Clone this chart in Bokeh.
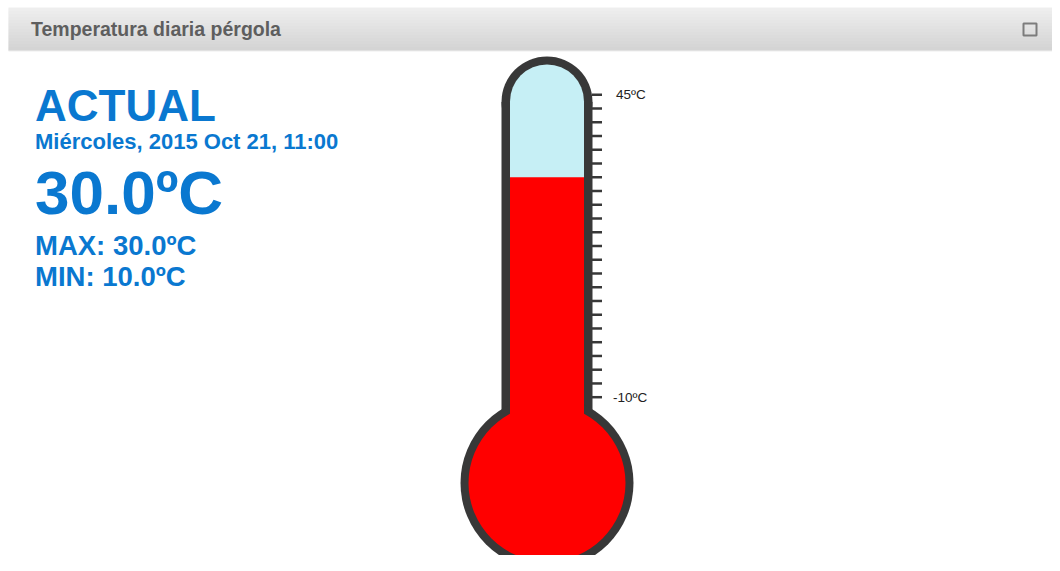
from bokeh.plotting import figure
from bokeh.models import Range1d
from bokeh.core.properties import value
from bokeh.embed import file_html
from bokeh.resources import INLINE

# ---- data ----
title_text = "Temperatura diaria pérgola"
heading = "ACTUAL"
date_label = "Miércoles, 2015 Oct 21, 11:00"
current_temp = 30.0
max_temp = 30.0
min_temp = 10.0
scale_min = -10.0
scale_max = 45.0
tick_temps = [-10.0, -7.5, -5.0, -2.5, 0.0, 2.5, 5.0, 7.5, 10.0, 12.5, 15.0, 17.5,
              20.0, 22.5, 25.0, 27.5, 30.0, 32.5, 35.0, 37.5, 40.0, 42.5, 45.0]
tick_label_temps = [45.0, -10.0]
tick_labels = ["45ºC", "-10ºC"]

# ---- layout (pixel coordinates inside the figure) ----
W, H = 1052, 555
PY_MAX, PY_MIN = 94.3, 396.7          # pixel rows of scale_max / scale_min
deg_per_px = (scale_max - scale_min) / (PY_MIN - PY_MAX)


def t_at(py):
    return scale_min + (PY_MIN - py) * deg_per_px


p = figure(width=W, height=H,
           x_range=Range1d(0, W),
           y_range=Range1d(t_at(H), t_at(0)),
           output_backend="svg", toolbar_location=None,
           x_axis_location=None, y_axis_location=None,
           min_border=0, outline_line_color=None,
           background_fill_color="white", border_fill_color="white")
p.xgrid.visible = False
p.ygrid.visible = False
p.extra_y_ranges = {"px": Range1d(H, 0)}

FONT = value("Liberation Sans")
MID = 0.3465  # baseline offset of the em-box middle (Liberation Sans)

# ---- header bar with gradient ----
HT, HB = 7, 50
n = HB - HT
tops = [HT + i for i in range(n)]
bots = [HT + i + 1.6 for i in range(n)]
cols = []
for i in range(n):
    v = int(round(239 - (239 - 211) * i / (n - 1)))
    cols.append("#%02x%02x%02x" % (v, v, v))
p.quad(left=8, right=W, top=tops, bottom=bots, fill_color=cols,
       line_color=None, y_range_name="px")
p.segment(x0=[8], y0=[50.5], x1=[W], y1=[50.5], line_color="#eeeeee",
          line_width=1, y_range_name="px")
p.text(x=[30.5], y=[35 - MID * 19.5], text=[title_text], text_font=FONT,
       text_font_style="bold", text_font_size=value("19.5px"), text_color="#5e5e5e",
       text_baseline="middle", y_range_name="px")
p.rect(x=[1029.5], y=[29], width=13, height=12, fill_color=None,
       line_color="#7c7c7c", line_width=2, y_range_name="px")

# ---- left texts ----
blue = "#0a78d0"
lines = [
    (heading, 120, 44),
    (date_label, 149, 22),
    ("%.1fºC" % current_temp, 213, 62),
    ("MAX: %.1fºC" % max_temp, 255, 27.5),
    ("MIN: %.1fºC" % min_temp, 286, 27.5),
]
for txt, yb, fs in lines:
    p.text(x=[34.5], y=[yb - MID * fs], text=[txt], text_font=FONT,
           text_font_style="bold", text_font_size=value("%spx" % fs), text_color=blue,
           text_baseline="middle", y_range_name="px")

# ---- thermometer ----
cx = 546.5
dark = "#383838"
# outer dark shell
p.circle(x=[cx], y=[101.5], radius=45.5, fill_color=dark, line_color=None, y_range_name="px")
p.quad(left=[cx - 45.5], right=[cx + 45.5], top=[101.5], bottom=[440],
       fill_color=dark, line_color=None, y_range_name="px")
p.circle(x=[cx], y=[482.5], radius=86.5, fill_color=dark, line_color=None, y_range_name="px")
# empty tube (light cyan)
glass = "#c6eff5"
p.circle(x=[cx], y=[101], radius=37, fill_color=glass, line_color=None, y_range_name="px")
p.quad(left=[cx - 37], right=[cx + 37], top=[101], bottom=[430],
       fill_color=glass, line_color=None, y_range_name="px")
# mercury (temperature units)
p.quad(left=[cx - 37], right=[cx + 37], top=[current_temp], bottom=[scale_min - 10],
       fill_color="#ff0000", line_color=None)
p.circle(x=[cx], y=[482.5], radius=78.5, fill_color="#ff0000", line_color=None,
         y_range_name="px")

# ticks
p.segment(x0=[cx + 45] * len(tick_temps), y0=tick_temps,
          x1=[cx + 55] * len(tick_temps), y1=tick_temps,
          line_color=dark, line_width=2.5)
p.text(x=[615.5, 612.5], y=tick_label_temps, text=tick_labels,
       text_font=FONT, text_font_size=value("13.5px"),
       text_color="#222222", text_baseline="middle")

open("out.html", "w").write(file_html(p, INLINE))
